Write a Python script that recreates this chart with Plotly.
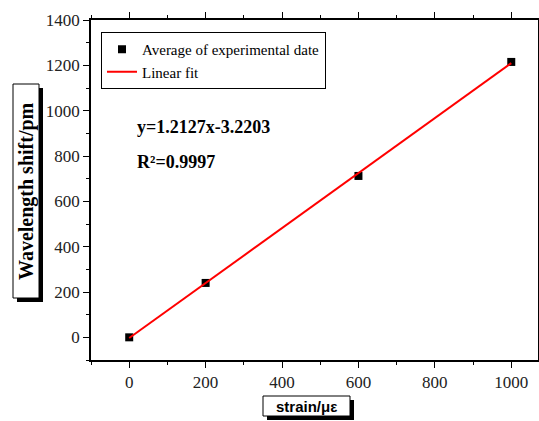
import plotly.graph_objects as go

strain = [0, 200, 600, 1000]
shift = [0, 240, 712, 1215]
fit_x = [0, 1000]
slope = 1.2127
intercept = -3.2203
fit_y = [slope * v + intercept for v in fit_x]
x_ticks = [0, 200, 400, 600, 800, 1000]
y_ticks = [0, 200, 400, 600, 800, 1000, 1200, 1400]

W, H = 539, 421
L, R, T, B = 91, 538, 20, 360

def px(x):
    return (x - L) / (R - L)

def py(y):
    return (B - y) / (B - T)

serif = "Liberation Serif, Times New Roman, serif"

fig = go.Figure()
fig.add_trace(go.Scatter(x=strain, y=shift, mode="markers", name="Average of experimental date",
                         marker=dict(symbol="square", size=8, color="black")))
fig.add_trace(go.Scatter(x=fit_x, y=fit_y, mode="lines", name="Linear fit",
                         line=dict(color="red", width=2)))

axis_common = dict(showgrid=False, zeroline=False, showline=True, linecolor="black", linewidth=1.5,
                   ticks="outside", ticklen=6, tickwidth=1, tickcolor="black",
                   tickfont=dict(family=serif, size=17, color="#222"),
                   minor=dict(ticks="outside", ticklen=3, tickcolor="black"))

fig.update_xaxes(range=[-100, 1070], tickvals=x_ticks, mirror="ticks",
                 minor_dtick=100, **axis_common)
fig.update_yaxes(range=[-100, 1400], tickvals=y_ticks, mirror="ticks",
                 minor_dtick=100, **axis_common)

shapes = []
annotations = []

def boxed_title(x0, y0, x1, y1, text, font, angle=0):
    shapes.append(dict(type="rect", xref="paper", yref="paper",
                       x0=px(x0 + 4), x1=px(x1 + 4), y0=py(y1 + 4), y1=py(y0 + 4),
                       fillcolor="black", line=dict(width=0), layer="above"))
    shapes.append(dict(type="rect", xref="paper", yref="paper",
                       x0=px(x0), x1=px(x1), y0=py(y1), y1=py(y0),
                       fillcolor="white", line=dict(color="black", width=1), layer="above"))
    annotations.append(dict(xref="paper", yref="paper", x=px((x0 + x1) / 2), y=py((y0 + y1) / 2),
                            text=text, showarrow=False, textangle=angle, font=font,
                            xanchor="center", yanchor="middle"))

boxed_title(13, 84, 39, 298, "<b>Wavelength shift/pm</b>",
            dict(family=serif, size=20, color="black"), angle=-90)
boxed_title(263, 396, 350, 416, "<b>strain/με</b>",
            dict(family="Liberation Sans, Arial, sans-serif", size=15, color="black"))

annotations.append(dict(xref="paper", yref="paper", x=px(135), y=py(127), xanchor="left", yanchor="middle",
                        text="<b>y=1.2127x-3.2203</b>", showarrow=False,
                        font=dict(family=serif, size=18, color="black")))
annotations.append(dict(xref="paper", yref="paper", x=px(135), y=py(162), xanchor="left", yanchor="middle",
                        text="<b>R²=0.9997</b>", showarrow=False,
                        font=dict(family=serif, size=18, color="black")))

fig.update_layout(
    width=W, height=H,
    margin=dict(l=L, r=W - R, t=T, b=H - B, autoexpand=False),
    plot_bgcolor="white", paper_bgcolor="white",
    shapes=shapes, annotations=annotations,
    showlegend=True,
    legend=dict(x=px(101), y=py(32), xanchor="left", yanchor="top",
                bordercolor="black", borderwidth=1, bgcolor="white",
                font=dict(family=serif, size=15, color="black"),
                tracegroupgap=0, itemwidth=30),
)

fig.write_html("out.html", config={"displayModeBar": False},
               post_script="document.body.style.margin='0';document.body.style.overflow='hidden';")
